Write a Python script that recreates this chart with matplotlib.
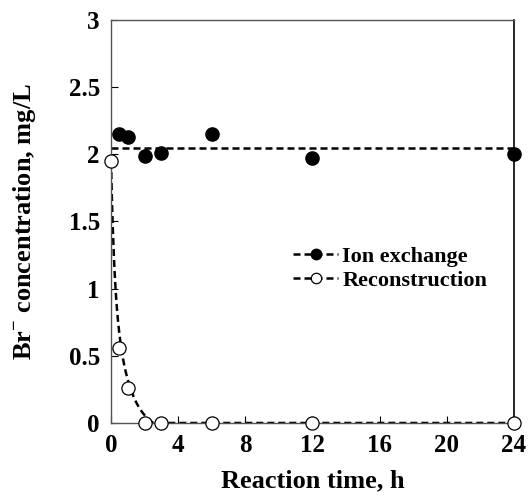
import matplotlib
matplotlib.use("Agg")
import matplotlib.pyplot as plt
import numpy as np

plt.rcParams['font.family'] = 'Liberation Serif'
plt.rcParams['font.weight'] = 'bold'
plt.rcParams['axes.labelweight'] = 'bold'
plt.rcParams['mathtext.fontset'] = 'custom'
plt.rcParams['mathtext.rm'] = 'Liberation Serif:bold'
plt.rcParams['mathtext.bf'] = 'Liberation Serif:bold'

# data
t_ion = [0.5, 1, 2, 3, 6, 12, 24]
br_ion = [2.15, 2.13, 1.99, 2.01, 2.15, 1.97, 2.00]
ion_level = 2.05   # flat dashed line

t_rec = [0, 0.5, 1, 2, 3, 6, 12, 24]
br_rec = [1.95, 0.56, 0.26, 0.0, 0.0, 0.0, 0.0, 0.0]

# decay trend line for reconstruction (two-rate model, parameters)
a_fast, k_fast = 0.90, 5.0
a_slow, k_slow = 1.13, 1.05
offset = 0.08

xticks = [0, 4, 8, 12, 16, 20, 24]
yticks = [0, 0.5, 1, 1.5, 2, 2.5, 3]
yticklabels = ['0', '0.5', '1', '1.5', '2', '2.5', '3']

tt = np.linspace(0, 24, 800)
fit = a_fast * np.exp(-k_fast * tt) + a_slow * np.exp(-k_slow * tt) - offset
fit = np.clip(fit, 0, None)

fig = plt.figure(figsize=(5.29, 4.95), dpi=100)
ax = fig.add_axes([0.2098, 0.1455, 0.7618, 0.8141])

dash = (0, (2.8, 1.6))
ax.plot([0, 24], [ion_level, ion_level], color='black', lw=1.8, linestyle=dash, zorder=2)
ax.plot(tt, fit, color='black', lw=1.8, linestyle=dash, zorder=2)
ax.plot(t_ion, br_ion, 'o', ms=9.5, mfc='black', mec='black', zorder=3, clip_on=False)
ax.plot(t_rec, br_rec, 'o', ms=9.5, mfc='white', mec='black', mew=0.9, zorder=3, clip_on=False)

# legend handles
h1, = ax.plot([], [], color='black', lw=1.8, linestyle=dash, marker='o', ms=7.5, mfc='black', mec='black')
h2, = ax.plot([], [], color='black', lw=1.8, linestyle=dash, marker='o', ms=7.5, mfc='white', mec='black', mew=0.9)
ax.legend([h1, h2], ['Ion exchange', 'Reconstruction'], loc='upper left',
          bbox_to_anchor=(0.425, 0.465), frameon=False, fontsize=16,
          handlelength=2.0, handletextpad=0.2, labelspacing=0.15, borderpad=0)

ax.set_xlim(0, 24)
ax.set_ylim(0, 3)
ax.set_xticks(xticks)
ax.set_yticks(yticks)
ax.set_yticklabels(yticklabels)
ax.tick_params(direction='in', length=5, width=0.8, labelsize=18, pad=8)

for s in ['left', 'bottom', 'top']:
    ax.spines[s].set_color('#555555')
    ax.spines[s].set_linewidth(1.0)
ax.spines['right'].set_color('black')
ax.spines['right'].set_linewidth(1.2)

ax.set_xlabel('Reaction time, h', fontsize=19, labelpad=9)
ax.set_ylabel(r'Br$^{-}$ concentration, mg/L', fontsize=19)
ax.yaxis.set_label_coords(-0.18, 0.5)

fig.savefig('out.png', dpi=100)
